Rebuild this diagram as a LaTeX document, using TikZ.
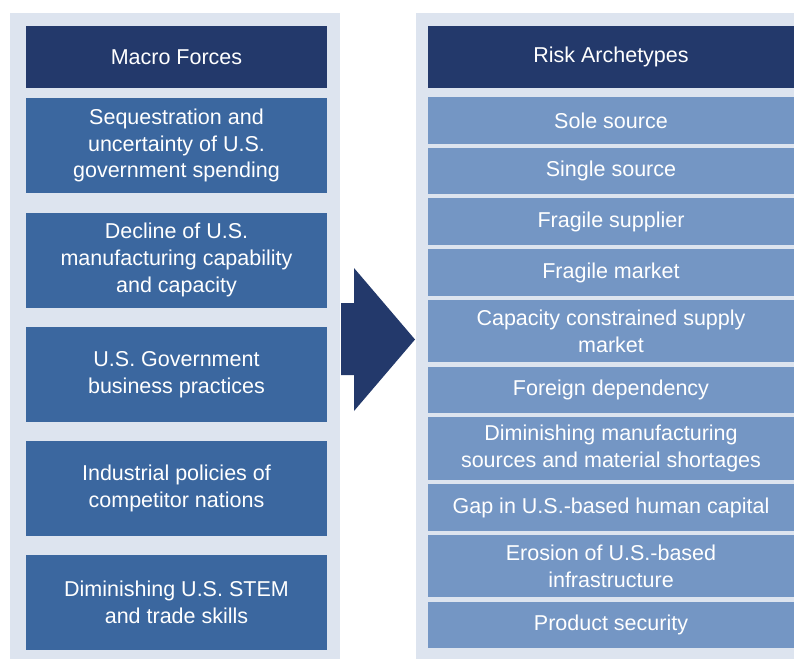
\documentclass[tikz,border=0pt]{standalone}
\usepackage{fontspec}
\setmainfont{Liberation Sans}
\usetikzlibrary{positioning}
\definecolor{navy}{RGB}{35,57,107}
\definecolor{midblue}{RGB}{59,103,159}
\definecolor{lightblue}{RGB}{116,150,196}
\definecolor{panelbg}{RGB}{221,228,239}

\begin{document}
\begin{tikzpicture}[x=1pt,y=-1pt,
  txt/.style={text=white,align=center,inner sep=0pt,font=\fontsize{21.5}{26.8}\selectfont},
  head/.style={txt,fill=navy,minimum height=62pt},
  force/.style={txt,fill=midblue,minimum width=301pt,minimum height=95pt},
  risk/.style={txt,fill=lightblue,minimum width=366pt}]
  \useasboundingbox (0,0) rectangle (794,659);
  \fill[white] (0,0) rectangle (794,659);
  % panels
  \fill[panelbg] (10,13) rectangle (340,659);
  \fill[panelbg] (416,13) rectangle (794,659);
  % macro forces
  \node[head,minimum width=301pt] (mf) at (176.5,57) {Macro Forces};
  \node[force] (mf1) at (176.5,145.5) {Sequestration and\\uncertainty of U.S.\\government spending};
  \node[force] (mf2) at (176.5,260) {Decline of U.S.\\manufacturing capability\\and capacity};
  \node[force] (mf3) at (176.5,374.5) {U.S. Government\\business practices};
  \node[force] (mf4) at (176.5,488.5) {Industrial policies of\\competitor nations};
  \node[force] (mf5) at (176.5,602.5) {Diminishing U.S. STEM\\and trade skills};
  % risk archetypes
  \node[head,minimum width=366pt] (ra) at (611,57) {Risk Archetypes};
  \node[risk,minimum height=47pt] (ra1) at (611,120.5) {Sole source};
  \node[risk,minimum height=46pt] (ra2) at (611,171) {Single source};
  \node[risk,minimum height=47pt] (ra3) at (611,221.5) {Fragile supplier};
  \node[risk,minimum height=47pt] (ra4) at (611,272.5) {Fragile market};
  \node[risk,minimum height=62pt] (ra5) at (611,331) {Capacity constrained supply\\market};
  \node[risk,minimum height=46pt] (ra6) at (611,390) {Foreign dependency};
  \node[risk,minimum height=63pt] (ra7) at (611,448.5) {Diminishing manufacturing\\sources and material shortages};
  \node[risk,minimum height=47pt] (ra8) at (611,507.5) {Gap in U.S.-based human capital};
  \node[risk,minimum height=62pt] (ra9) at (611,566) {Erosion of U.S.-based\\infrastructure};
  \node[risk,minimum height=46pt] (ra10) at (611,625) {Product security};
  % block arrow
  \fill[navy] (341,303) -- (354,303) -- (354,268) -- (415,339.5)
    -- (354,411) -- (354,375) -- (341,375) -- cycle;
\end{tikzpicture}
\end{document}
